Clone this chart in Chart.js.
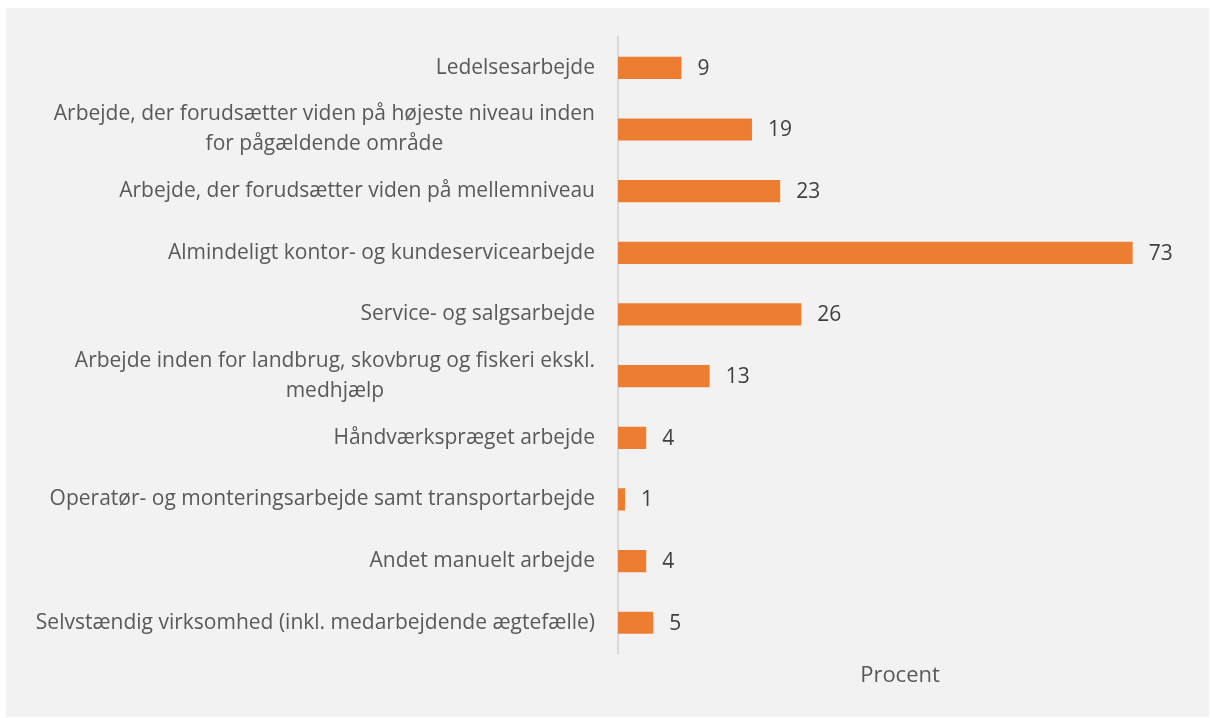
<!DOCTYPE html>
<html>
<head>
<meta charset="utf-8">
<script src="https://cdn.jsdelivr.net/npm/chart.js@4"></script>
<style>
    html, body { margin: 0; padding: 0; background: #ffffff; }
    #frame {
        position: absolute;
        left: 6px; top: 8px;
        width: 1203px; height: 709px;
        background: #f2f2f2;
    }
</style>
</head>
<body>
<div id="frame"><canvas id="chart" width="1203" height="709"></canvas></div>
<script>
// Categories (each entry is the list of wrapped lines)
const categories = [
    ['Ledelsesarbejde'],
    ['Arbejde, der forudsætter viden på højeste niveau inden', 'for pågældende område'],
    ['Arbejde, der forudsætter viden på mellemniveau'],
    ['Almindeligt kontor- og kundeservicearbejde'],
    ['Service- og salgsarbejde'],
    ['Arbejde inden for landbrug, skovbrug og fiskeri ekskl.', 'medhjælp'],
    ['Håndværkspræget arbejde'],
    ['Operatør- og monteringsarbejde samt transportarbejde'],
    ['Andet manuelt arbejde'],
    ['Selvstændig virksomhed (inkl. medarbejdende ægtefælle)']
];
const values = [9, 19, 23, 73, 26, 13, 4, 1, 4, 5];
const axisTitle = 'Procent';

const FONT = '"Open Sans", sans-serif';

// Draws the category labels (right aligned block, centered lines) and value labels
const labelPlugin = {
    id: 'labelPlugin',
    afterDatasetsDraw(chart) {
        const ctx = chart.ctx;
        const yScale = chart.scales.y;
        const area = chart.chartArea;
        const meta = chart.getDatasetMeta(0);
        ctx.save();

        // category labels
        ctx.font = '21px ' + FONT;
        ctx.fillStyle = '#595959';
        ctx.textBaseline = 'middle';
        ctx.textAlign = 'center';
        const lineH = 30;
        categories.forEach((lines, i) => {
            const yc = yScale.getPixelForValue(i);
            const widths = lines.map(l => ctx.measureText(l).width);
            const blockW = Math.max(...widths);
            const cx = area.left - 23 - blockW / 2;
            const y0 = yc - (lines.length - 1) * lineH / 2;
            lines.forEach((l, j) => ctx.fillText(l, cx, y0 + j * lineH));
        });

        // value labels
        ctx.font = '21px ' + FONT;
        ctx.fillStyle = '#404040';
        ctx.textAlign = 'left';
        meta.data.forEach((bar, i) => {
            ctx.fillText(String(values[i]), bar.x + 16, bar.y + 1);
        });
        ctx.restore();
    }
};

new Chart(document.getElementById('chart'), {
    type: 'bar',
    data: {
        labels: categories,
        datasets: [{
            data: values,
            backgroundColor: '#ED7D31',
            borderWidth: 0,
            categoryPercentage: 1,
            barPercentage: 0.36
        }]
    },
    options: {
        indexAxis: 'y',
        responsive: false,
        animation: false,
        layout: { padding: { left: 612, right: 27, top: 29, bottom: 28 } },
        plugins: { legend: { display: false }, tooltip: { enabled: false } },
        scales: {
            x: {
                min: 0,
                max: 80,
                grid: { display: false },
                border: { display: false },
                ticks: { display: false },
                title: {
                    display: true,
                    text: axisTitle,
                    color: '#595959',
                    font: { family: FONT, size: 22 },
                    padding: { top: 1, bottom: 0 }
                }
            },
            y: {
                grid: { display: false },
                border: { display: true, color: '#d9d9d9', width: 2 },
                ticks: { display: false },
                afterFit(scale) { scale.width = 0; }
            }
        }
    },
    plugins: [labelPlugin]
});
</script>
</body>
</html>
